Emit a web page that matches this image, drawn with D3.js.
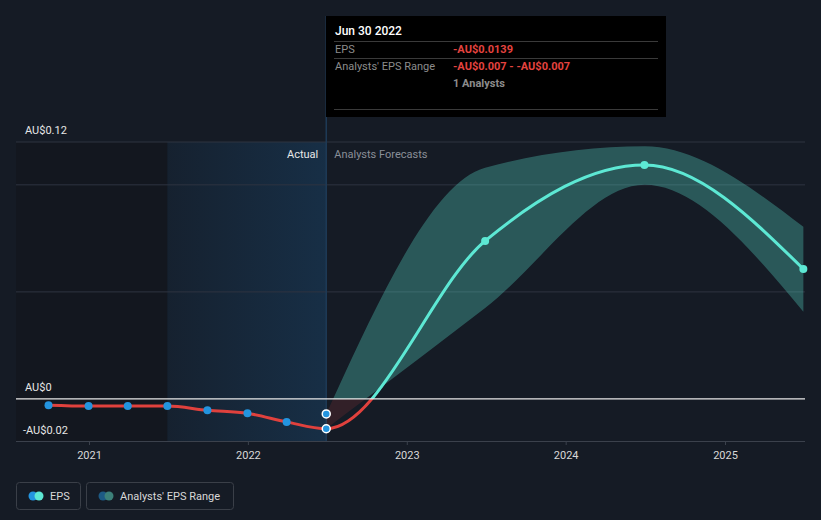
<!DOCTYPE html>
<html><head><meta charset="utf-8">
<script src="https://cdn.jsdelivr.net/npm/d3@7"></script>
<style>
html,body{margin:0;padding:0;background:#151b25;}
svg{display:block;font-family:Roboto,"Noto Sans",sans-serif;}
</style></head><body>
<svg id="c" width="821" height="520"></svg>
<script>
const actualDates = ["2020-09-30","2020-12-31","2021-03-31","2021-06-30","2021-09-30","2021-12-31","2022-03-31","2022-06-30"];
const actualEPS = [-0.0029,-0.0033,-0.0033,-0.0033,-0.0053,-0.0067,-0.0107,-0.0139];
const forecastDates = ["2022-06-30","2023-06-30","2024-06-30","2025-06-30"];
const forecastEPS = [-0.0139,0.0738,0.1093,0.0607];
const rangeLow = [-0.0139,0.0425,0.100,0.0407];
const rangeHigh = [-0.007,0.108,0.118,0.0804];
const estimateDate = "2022-06-30", estimateEPS = -0.007;
const yearTicks = ["2021","2022","2023","2024","2025"];
const yLabels = [{v:0.12,t:"AU$0.12"},{v:0,t:"AU$0"},{v:-0.02,t:"-AU$0.02"}];
const gridValues = [0.12,0.10,0.05];

const parse = d3.timeParse("%Y-%m-%d");
const svg = d3.select("#c");
const W=821,H=520;
const x = d3.scaleTime().domain([parse("2021-01-01"),parse("2025-01-01")]).range([89,725]);
const y = d3.scaleLinear().domain([-0.02,0.12]).range([441.8,142]);
const left=16,right=805;

// background regions
svg.append("rect").attr("width",W).attr("height",H).attr("fill","#151b25");
svg.append("rect").attr("x",left).attr("y",142).attr("width",x(parse("2021-06-30"))-left).attr("height",300).attr("fill","#13171f");
const defs=svg.append("defs");
const g1=defs.append("linearGradient").attr("id","pastg").attr("x1","0").attr("x2","1").attr("y1","0").attr("y2","0");
g1.append("stop").attr("offset","0").attr("stop-color","#2196f3").attr("stop-opacity",0.05);
g1.append("stop").attr("offset","1").attr("stop-color","#2196f3").attr("stop-opacity",0.16);
const xNow = x(parse("2022-06-30"));
svg.append("rect").attr("x",x(parse("2021-06-30"))).attr("y",142).attr("width",xNow-x(parse("2021-06-30"))).attr("height",300).attr("fill","url(#pastg)");

// grid
svg.selectAll(".grid").data(gridValues).join("line")
  .attr("x1",left).attr("x2",right).attr("y1",d=>y(d)).attr("y2",d=>y(d))
  .attr("stroke","#2e3440").attr("stroke-width",1);

// vertical now line
svg.append("line").attr("x1",xNow).attr("x2",xNow).attr("y1",16).attr("y2",441).attr("stroke","#1e3a56").attr("stroke-width",1.5);

// clip paths
defs.append("clipPath").attr("id","above").append("rect").attr("x",xNow).attr("y",0).attr("width",W).attr("height",y(0));
defs.append("clipPath").attr("id","belowF").append("rect").attr("x",xNow).attr("y",y(0)).attr("width",W).attr("height",H-y(0));
defs.append("clipPath").attr("id","past").append("rect").attr("x",0).attr("y",0).attr("width",xNow).attr("height",H);

const fc = forecastDates.map((d,i)=>({d:parse(d),v:forecastEPS[i],lo:rangeLow[i],hi:rangeHigh[i]}));
const area = d3.area().x(d=>x(d.d)).y0(d=>y(d.lo)).y1(d=>y(d.hi)).curve(d3.curveMonotoneX);
svg.append("path").datum(fc).attr("d",area).attr("fill","#5de8d4").attr("fill-opacity",0.3).attr("clip-path","url(#above)");
svg.append("path").datum(fc).attr("d",area).attr("fill","#e0413d").attr("fill-opacity",0.15).attr("clip-path","url(#belowF)");

const line = d3.line().x(d=>x(d.d)).y(d=>y(d.v)).curve(d3.curveMonotoneX);
const act = actualDates.map((d,i)=>({d:parse(d),v:actualEPS[i]}));
const all = act.concat(fc.slice(1));
svg.append("path").datum(all).attr("d",line).attr("fill","none").attr("stroke","#e0413d").attr("stroke-width",3).attr("clip-path","url(#past)");
svg.append("path").datum(all).attr("d",line).attr("fill","none").attr("stroke","#5de8d4").attr("stroke-width",3).attr("clip-path","url(#above)");
svg.append("path").datum(all).attr("d",line).attr("fill","none").attr("stroke","#e0413d").attr("stroke-width",3).attr("clip-path","url(#belowF)");

// zero line
svg.append("line").attr("x1",left).attr("x2",right).attr("y1",y(0)).attr("y2",y(0)).attr("stroke","#e8e8e8").attr("stroke-width",1.2);

// bottom axis
svg.append("line").attr("x1",left).attr("x2",right).attr("y1",441.5).attr("y2",441.5).attr("stroke","#3b414c").attr("stroke-width",1);
const xa = svg.append("g").attr("transform","translate(0,441)").call(d3.axisBottom(x).tickValues(yearTicks.map(t=>parse(t+"-01-01"))).tickFormat(d3.timeFormat("%Y")).tickSize(4).tickPadding(6));
xa.select(".domain").remove();
xa.selectAll("line").attr("stroke","#3b414c");
xa.selectAll("text").attr("fill","#d8d8d8").attr("font-size",11).attr("font-family","Roboto");

// y labels
svg.selectAll(".yl").data(yLabels).join("text")
  .attr("x",d=>d.v<0?23:25).attr("y",d=>y(d.v)-8).attr("fill","#e6e6e6").attr("font-size",11)
  .text(d=>d.t);

// actual / forecasts labels
svg.append("text").attr("x",xNow-8).attr("y",158).attr("text-anchor","end").attr("fill","#e8e8e8").attr("font-size",11).text("Actual");
svg.append("text").attr("x",xNow+8).attr("y",158).attr("fill","#8a8f98").attr("font-size",11).text("Analysts Forecasts");

// points
svg.selectAll(".ap").data(act).join("circle").attr("cx",d=>x(d.d)).attr("cy",d=>y(d.v)).attr("r",4).attr("fill","#2394df");
svg.append("circle").attr("cx",x(parse(estimateDate))).attr("cy",y(estimateEPS)).attr("r",4).attr("fill","#2394df").attr("stroke","#ffffff").attr("stroke-width",1.5);
svg.append("circle").attr("cx",xNow).attr("cy",y(actualEPS[actualEPS.length-1])).attr("r",4).attr("fill","#2394df").attr("stroke","#ffffff").attr("stroke-width",1.5);
svg.selectAll(".fp").data(fc.slice(1)).join("circle").attr("cx",d=>x(d.d)).attr("cy",d=>y(d.v)).attr("r",4).attr("fill","#5de8d4");

// tooltip
const tt = svg.append("g");
tt.append("rect").attr("x",326).attr("y",16).attr("width",340).attr("height",101).attr("fill","#000");
tt.append("text").attr("x",335).attr("y",35).attr("fill","#fff").attr("font-size",12).attr("font-weight",500).text("Jun 30 2022");
[41.5,58.5,109.5].forEach(v=>tt.append("line").attr("x1",334).attr("x2",658).attr("y1",v).attr("y2",v).attr("stroke","#3a3a3a"));
tt.append("text").attr("x",335).attr("y",53).attr("fill","#8c8c8c").attr("font-size",11).text("EPS");
tt.append("text").attr("x",453).attr("y",53).attr("fill","#e5433f").attr("font-size",11).attr("font-weight",700).text("-AU$0.0139");
tt.append("text").attr("x",335).attr("y",70).attr("fill","#8c8c8c").attr("font-size",11).text("Analysts' EPS Range");
tt.append("text").attr("x",453).attr("y",70).attr("fill","#e5433f").attr("font-size",11).attr("font-weight",700).text("-AU$0.007 - -AU$0.007");
tt.append("text").attr("x",453).attr("y",87).attr("fill","#8c8c8c").attr("font-size",11).attr("font-weight",700).text("1 Analysts");

// legend
const lg = svg.append("g");
lg.append("rect").attr("x",16.5).attr("y",482.5).attr("width",64).attr("height",27).attr("rx",3).attr("fill","none").attr("stroke","#3a3f48");
lg.append("circle").attr("cx",33).attr("cy",496).attr("r",4.5).attr("fill","#2394df");
lg.append("circle").attr("cx",39).attr("cy",496).attr("r",4.5).attr("fill","#5de8d4");
lg.append("text").attr("x",50).attr("y",500).attr("fill","#d8d8d8").attr("font-size",11).text("EPS");
lg.append("rect").attr("x",86.5).attr("y",482.5).attr("width",147).attr("height",27).attr("rx",3).attr("fill","none").attr("stroke","#3a3f48");
lg.append("circle").attr("cx",103).attr("cy",496).attr("r",4.5).attr("fill","#1d5a84");
lg.append("circle").attr("cx",109).attr("cy",496).attr("r",4.5).attr("fill","#3c8079");
lg.append("text").attr("x",120).attr("y",500).attr("fill","#d8d8d8").attr("font-size",11).text("Analysts' EPS Range");
</script></body></html>
